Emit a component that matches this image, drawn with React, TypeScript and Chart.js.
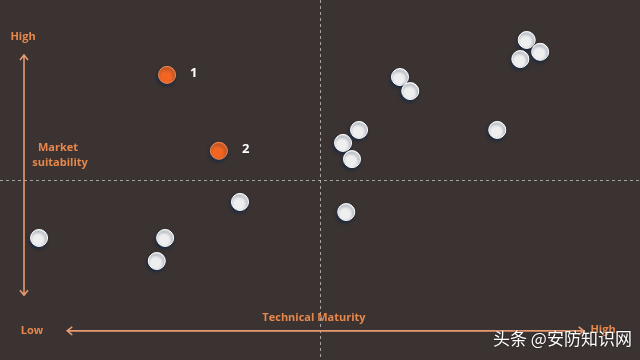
import React, { useEffect, useRef } from "react";
import { Chart, registerables } from "chart.js";

Chart.register(...registerables);

// Technical Maturity (x, 0-100) vs Market suitability (y, 0-100)
const highlightLabels = ["1", "2"];
const highlightX = [26.1, 34.2];
const highlightY = [79.2, 58.1];

const otherX = [6.1, 25.8, 24.5, 37.5, 54.1, 53.6, 56.1, 55.0, 62.5, 64.1, 77.7, 82.3, 84.4, 81.3];
const otherY = [33.9, 33.9, 27.5, 43.9, 41.1, 60.3, 63.9, 55.8, 78.6, 74.7, 63.9, 88.9, 85.6, 83.6];

const xAxisTitle = "Technical Maturity";
const yAxisTitle = ["Market", "suitability"];
const lowLabel = "Low";
const highLabel = "High";
const watermark = "头条 @安防知识网";

const BG = "#3a3332";
const ORANGE = "#f26522";
const TEXT_ORANGE = "#e8874c";
const ARROW = "#e79a72";

const decorPlugin = {
  id: "decor",
  beforeDraw(chart: any) {
    const { ctx, width, height } = chart;
    ctx.save();
    ctx.fillStyle = BG;
    ctx.fillRect(0, 0, width, height);
    const xs = chart.scales.x;
    const ys = chart.scales.y;
    const cx = xs.getPixelForValue(50);
    const cy = ys.getPixelForValue(50);
    ctx.strokeStyle = "rgba(210,210,210,0.7)";
    ctx.lineWidth = 1;
    ctx.setLineDash([3, 3]);
    ctx.beginPath();
    ctx.moveTo(Math.round(cx) + 0.5, 0);
    ctx.lineTo(Math.round(cx) + 0.5, height);
    ctx.moveTo(0, Math.round(cy) + 0.5);
    ctx.lineTo(width, Math.round(cy) + 0.5);
    ctx.stroke();
    ctx.setLineDash([]);

    // vertical arrow
    const ax = xs.getPixelForValue(3.75);
    const yTop = ys.getPixelForValue(84.7);
    const yBot = ys.getPixelForValue(18);
    ctx.strokeStyle = ARROW;
    ctx.lineWidth = 1.6;
    ctx.beginPath();
    ctx.moveTo(ax, yTop);
    ctx.lineTo(ax, yBot);
    ctx.moveTo(ax - 4, yTop + 5);
    ctx.lineTo(ax, yTop);
    ctx.lineTo(ax + 4, yTop + 5);
    ctx.moveTo(ax - 4, yBot - 5);
    ctx.lineTo(ax, yBot);
    ctx.lineTo(ax + 4, yBot - 5);
    ctx.stroke();

    // horizontal arrow
    const ay = ys.getPixelForValue(8.1);
    const xL = xs.getPixelForValue(10.5);
    const xR = xs.getPixelForValue(91.2);
    ctx.beginPath();
    ctx.moveTo(xL, ay);
    ctx.lineTo(xR, ay);
    ctx.moveTo(xL + 5, ay - 4);
    ctx.lineTo(xL, ay);
    ctx.lineTo(xL + 5, ay + 4);
    ctx.moveTo(xR - 5, ay - 4);
    ctx.lineTo(xR, ay);
    ctx.lineTo(xR - 5, ay + 4);
    ctx.stroke();

    ctx.fillStyle = TEXT_ORANGE;
    ctx.font = "bold 11px 'Open Sans'";
    ctx.textAlign = "center";
    ctx.textBaseline = "middle";
    ctx.fillText(highLabel, 23, 37);
    ctx.fillText(yAxisTitle[0], 58, 148);
    ctx.fillText(yAxisTitle[1], 60, 163);
    ctx.fillText(lowLabel, 32, 331);
    ctx.fillText(xAxisTitle, 314, 318);
    ctx.fillText(highLabel, 603, 330);
    ctx.restore();
  },
  beforeDatasetsDraw(chart: any) {
    const ctx = chart.ctx;
    ctx.save();
    ctx.shadowColor = "rgba(20,40,70,0.8)";
    ctx.shadowBlur = 3;
    ctx.shadowOffsetX = -1;
    ctx.shadowOffsetY = 2;
  },
  afterDatasetsDraw(chart: any) {
    const ctx = chart.ctx;
    ctx.restore();
    const meta = chart.getDatasetMeta(0);
    ctx.save();
    ctx.fillStyle = "#ffffff";
    ctx.font = "bold 13px 'Open Sans'";
    ctx.textAlign = "left";
    ctx.textBaseline = "middle";
    meta.data.forEach((el: any, i: number) => {
      ctx.fillText(highlightLabels[i], el.x + 23, el.y - 2);
    });
    ctx.font = "17px 'Noto Sans CJK SC'";
    ctx.fillStyle = "#ffffff";
    ctx.shadowColor = "rgba(0,0,0,0.6)";
    ctx.shadowBlur = 2;
    ctx.textAlign = "left";
    ctx.fillText(watermark, 493, 339);
    ctx.restore();
  },
};

export default function App() {
  const ref = useRef<HTMLCanvasElement>(null);
  useEffect(() => {
    document.body.style.margin = "0";
    const chart = new Chart(ref.current as HTMLCanvasElement, {
      type: "scatter",
      data: {
        datasets: [
          {
            data: highlightX.map((x, i) => ({ x, y: highlightY[i] })),
            backgroundColor: ORANGE,
            borderColor: "#f08a55",
            borderWidth: 1,
            pointRadius: 8.5,
            pointHoverRadius: 8.5,
            clip: false,
          },
          {
            data: otherX.map((x, i) => ({ x, y: otherY[i] })),
            backgroundColor: "#efeff0",
            borderColor: "#ffffff",
            borderWidth: 1,
            pointRadius: 8.5,
            pointHoverRadius: 8.5,
            clip: false,
          },
        ],
      },
      options: {
        animation: false,
        responsive: false,
        maintainAspectRatio: false,
        layout: { padding: 0, autoPadding: false },
        plugins: { legend: { display: false }, tooltip: { enabled: false } },
        scales: {
          x: { type: "linear", min: 0, max: 100, display: false },
          y: { type: "linear", min: 0, max: 100, display: false },
        },
      },
      plugins: [decorPlugin],
    });
    return () => chart.destroy();
  }, []);
  return (
    <div style={{ position: "fixed", left: 0, top: 0, width: 640, height: 360 }}>
      <canvas ref={ref} width={640} height={360} style={{ display: "block" }} />
    </div>
  );
}
